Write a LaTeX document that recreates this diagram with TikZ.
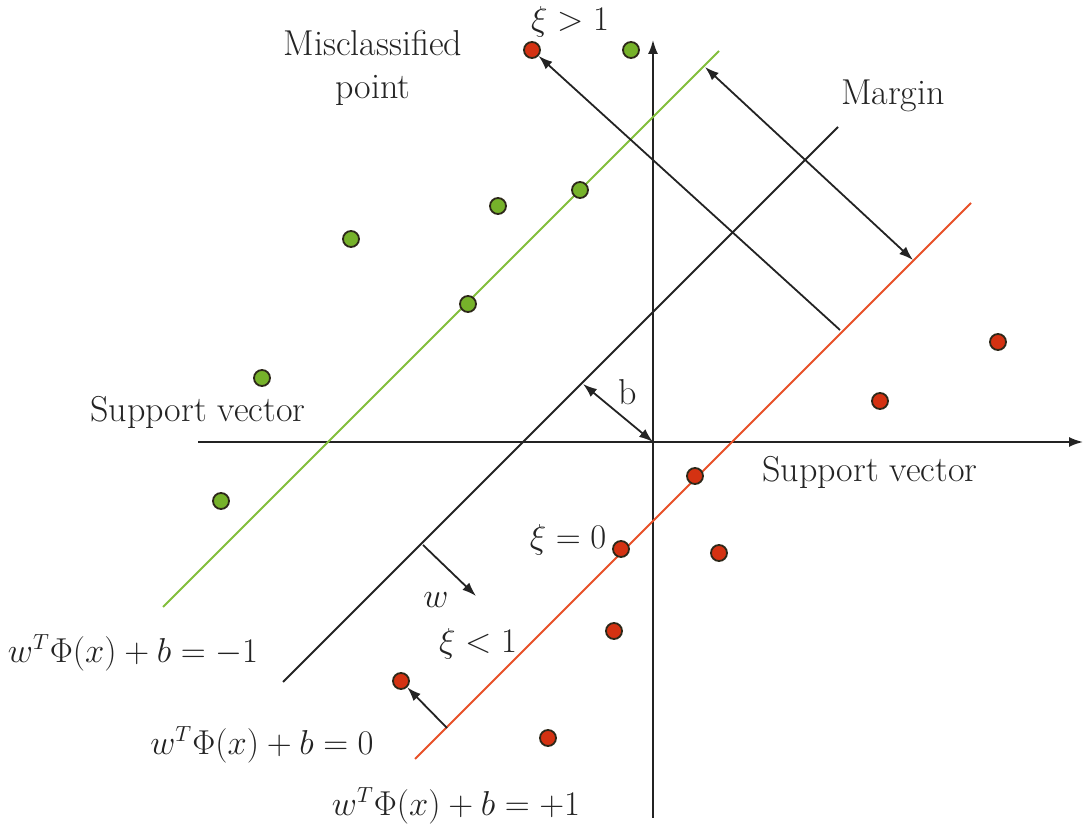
\documentclass[tikz,border=0pt]{standalone}
\usetikzlibrary{arrows.meta}
\definecolor{lgreen}{RGB}{130,190,60}
\definecolor{lred}{RGB}{232,80,40}
\definecolor{gfill}{RGB}{118,178,42}
\definecolor{rfill}{RGB}{212,50,18}
\definecolor{dotline}{RGB}{45,40,25}
\definecolor{ink}{RGB}{35,35,35}
\begin{document}
\begin{tikzpicture}[x=0.5pt,y=-0.5pt,
  every node/.style={font=\fontsize{18}{21.5}\selectfont, text=ink},
  mathlab/.style={font=\fontsize{16}{19}\selectfont},
  gdot/.style={circle,draw=dotline,fill=gfill,line width=0.9pt,minimum size=8pt,inner sep=0pt},
  rdot/.style={circle,draw=dotline,fill=rfill,line width=0.9pt,minimum size=8pt,inner sep=0pt},
  axis/.style={draw=ink,line width=0.9pt},
  hyper/.style={line width=0.9pt},
  arr/.style={draw=ink,line width=0.9pt,-{Latex[length=7pt,width=5pt]}},
  darr/.style={draw=ink,line width=0.9pt,{Latex[length=7pt,width=5pt]}-{Latex[length=7pt,width=5pt]}}
]
\useasboundingbox (0,0) rectangle (1083,828);
% axes
\coordinate (xL) at (198,442);
\coordinate (xR) at (1083,442);
\coordinate (yB) at (653,818);
\coordinate (yT) at (653,40);
\coordinate (O) at (653,442);
\draw[axis,-{Latex[length=7pt,width=5pt]}] (xL) -- (xR);
\draw[axis,-{Latex[length=7pt,width=5pt]}] (yB) -- (yT);
% hyperplanes
\coordinate (gA) at (163,607);
\coordinate (gB) at (719,51);
\coordinate (kA) at (283,682);
\coordinate (kB) at (838,127);
\coordinate (rA) at (415,759);
\coordinate (rB) at (971,203);
\draw[hyper,draw=lgreen] (gA) -- (gB);
\draw[hyper,draw=ink] (kA) -- (kB);
\draw[hyper,draw=lred] (rA) -- (rB);
% green dots
\node[gdot] (g1) at (631,50) {};
\node[gdot] (g2) at (580,190) {};
\node[gdot] (g3) at (498,206) {};
\node[gdot] (g4) at (351,239) {};
\node[gdot] (g5) at (468,304) {};
\node[gdot] (g6) at (262,378) {};
\node[gdot] (g7) at (221,501) {};
% red dots
\node[rdot] (r1) at (532,50) {};
\node[rdot] (r2) at (998,342) {};
\node[rdot] (r3) at (880,401) {};
\node[rdot] (r4) at (695,476) {};
\node[rdot] (r5) at (621,549) {};
\node[rdot] (r6) at (719,553) {};
\node[rdot] (r7) at (614,631) {};
\node[rdot] (r8) at (401,681) {};
\node[rdot] (r9) at (548,738) {};
% arrows
\coordinate (mS) at (840,330);
\draw[arr] (mS) -- (r1);
\coordinate (mgA) at (705,67);
\coordinate (mgB) at (913,260);
\draw[darr] (mgA) -- (mgB);
\coordinate (bF) at (583,384);
\draw[darr] (bF) -- (O);
\coordinate (wS) at (423,545);
\coordinate (wE) at (476,596);
\draw[arr] (wS) -- (wE);
\coordinate (sS) at (447,728);
\draw[arr] (sS) -- (r8);
% labels
\node[align=center] (lmis) at (373,68) {Misclassified\\point};
\node[mathlab] (lxi1) at (570,22) {$\xi > 1$};
\node (lmar) at (893,96) {Margin};
\node (lsv1) at (198,412) {Support vector};
\node (lsv2) at (870,472) {Support vector};
\node (lb) at (628,392) {b};
\node[mathlab] (lxi0) at (568,540) {$\xi = 0$};
\node[mathlab] (lw) at (436,600) {$w$};
\node[mathlab] (lxi2) at (478,644) {$\xi < 1$};
\node[mathlab] (lh1) at (133,653) {$w^T\Phi(x) + b = -1$};
\node[mathlab] (lh0) at (262,745) {$w^T\Phi(x) + b = 0$};
\node[mathlab] (lh2) at (456,806) {$w^T\Phi(x) + b = +1$};
\end{tikzpicture}
\end{document}
